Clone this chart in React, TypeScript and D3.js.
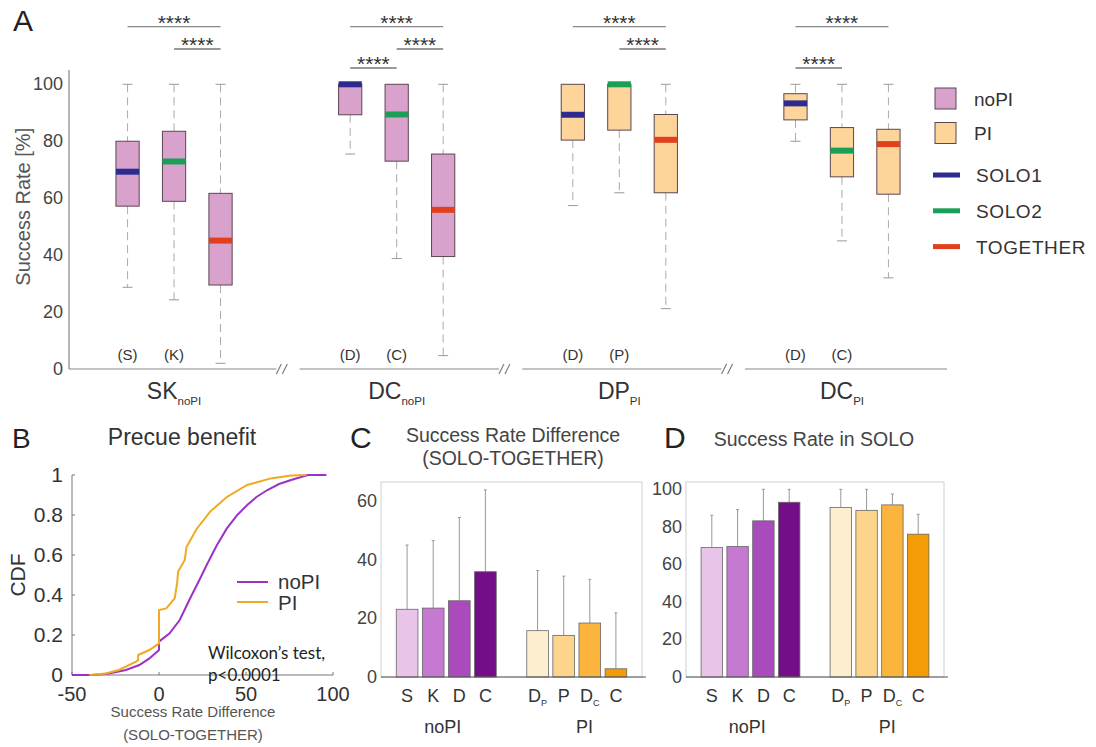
import React from "react";
import * as d3 from "d3";

const FONT = "'Liberation Sans', Arial, Helvetica, sans-serif";

// ---------- panel A: box plots ----------
const groupNames = ["SK", "DC", "DP", "DC"];
const groupSubs = ["noPI", "noPI", "PI", "PI"];
const groupCond = ["noPI", "noPI", "PI", "PI"];
const boxTags = [
  ["(S)", "(K)", ""],
  ["(D)", "(C)", ""],
  ["(D)", "(P)", ""],
  ["(D)", "(C)", ""],
];
const seriesNames = ["SOLO1", "SOLO2", "TOGETHER"];
const seriesColors = ["#2e2b8e", "#1b9e55", "#e2401c"];
const condNames = ["noPI", "PI"];
const condColors: Record<string, string> = { noPI: "#d8a2cd", PI: "#fdd59b" };
// [whisker low, q1, median, q3, whisker high]
const boxStats = [
  [[28.7, 57.2, 69.3, 80, 100], [24.3, 58.9, 72.9, 83.5, 100], [2, 29.5, 45.1, 61.7, 100]],
  [[75.5, 89.3, 100, 100, 100], [38.8, 73, 89.4, 100, 100], [4.7, 39.5, 55.9, 75.5, 100]],
  [[57.4, 80.4, 89.3, 100, 100], [61.9, 83.9, 100, 100, 100], [21.2, 61.9, 80.5, 89.4, 100]],
  [[80, 87.5, 93.3, 96.7, 100], [45, 67.5, 76.7, 84.8, 100], [32, 61.4, 79, 84.2, 100]],
];
// [group, from box, to box, row]
const sigBrackets = [
  [0, 0, 2, 0], [0, 1, 2, 1],
  [1, 0, 2, 0], [1, 1, 2, 1], [1, 0, 1, 2],
  [2, 0, 2, 0], [2, 1, 2, 1],
  [3, 0, 2, 0], [3, 0, 1, 2],
];
const yTicksA = [0, 20, 40, 60, 80, 100];

// ---------- panel B: CDF ----------
const cdfNoPIx = [-50, -38.5, -28.8, -19, -11.3, -5.5, 0, 0, 6.1, 11.9, 17.7, 23.5, 27.4, 33, 39, 45, 50.7, 56, 62.3, 69, 75.9, 85.6, 96.2];
const cdfNoPIy = [0, 0, 0.008, 0.025, 0.05, 0.083, 0.125, 0.167, 0.208, 0.275, 0.38, 0.48, 0.55, 0.645, 0.733, 0.8, 0.85, 0.89, 0.925, 0.955, 0.975, 1, 1];
const cdfPIx = [-40, -30.7, -23, -13.2, -12, -12, -5.5, 0, 0, 4.2, 9, 10.4, 11, 14.8, 15.8, 21.6, 29.4, 39, 50.7, 64.2, 75.9, 84.6];
const cdfPIy = [0, 0.008, 0.025, 0.067, 0.075, 0.1, 0.125, 0.158, 0.325, 0.333, 0.383, 0.458, 0.517, 0.575, 0.64, 0.73, 0.817, 0.89, 0.95, 0.983, 0.997, 1];
const xTicksB = [-50, 0, 50, 100];
const yTicksB = [0, 0.2, 0.4, 0.6, 0.8, 1];
const cdfColors = { noPI: "#9a32c6", PI: "#efa922" };

// ---------- panels C, D: bars ----------
const barCats = ["S", "K", "D", "C", "D", "P", "D", "C"];
const barSubs = ["", "", "", "", "P", "", "C", ""];
const barPos = [0, 1, 2, 3, 5, 6, 7, 8];
const barColors = ["#e8c4e8", "#c679d1", "#a94bbd", "#730d88", "#fdeed0", "#fdd48b", "#fbb53c", "#f39c05"];
const barGroups = ["noPI", "PI"];
const barGroupPos = [1.37, 6.8];
const diffMeans = [23.1, 23.5, 26, 35.9, 15.8, 14.2, 18.4, 2.8];
const diffUpper = [45, 46.5, 54.4, 63.8, 36.3, 34.4, 33.3, 21.9];
const soloMeans = [69, 69.6, 83.2, 93.1, 90.3, 88.8, 91.7, 76.1];
const soloUpper = [86.2, 89.2, 100, 100, 100, 100, 97.5, 86.7];
const yTicksC = [0, 20, 40, 60];
const yTicksD = [0, 20, 40, 60, 80, 100];

function PanelA() {
  const GS = 4.79;
  const x = d3.scaleLinear().domain([-1.26, 3 * GS + 3.26]).range([69, 947]);
  const y = d3.scaleLinear().domain([0, 100]).range([369, 84.3]);
  const bw = 0.5 * (x(1) - x(0));
  const rowY = [26.7, 49, 68];
  const pos = (g: number, i: number) => x(g * GS + i);
  return (
    <g>
      <text x={13} y={31} fontSize={30} fill="#222">A</text>
      {/* y axis */}
      <line x1={69} x2={69} y1={y(105)} y2={y(0)} stroke="#888" strokeWidth={1.2} />
      {yTicksA.map((t) => (
        <text key={t} x={63} y={y(t) + 6} fontSize={18} fill="#444" textAnchor="end">{t}</text>
      ))}
      <text transform={`translate(30,${y(57)}) rotate(-90)`} fontSize={20} fill="#555" textAnchor="middle">Success Rate [%]</text>
      {/* x axis segments with breaks */}
      {groupNames.map((_, g) => {
        const s = x(g * GS - 1.26) + (g === 0 ? 0 : 8);
        const e = x(g * GS + 2 + (g === 3 ? 1.26 : 1.2));
        return <line key={g} x1={s} x2={e} y1={y(0)} y2={y(0)} stroke="#888" strokeWidth={1.2} />;
      })}
      {[0, 1, 2].map((g) => {
        const cx = x(g * GS + 2 + 1.2) + 5;
        return (
          <g key={g} stroke="#777" strokeWidth={1.1}>
            <line x1={cx - 5} y1={y(0) + 5} x2={cx} y2={y(0) - 5} />
            <line x1={cx + 1} y1={y(0) + 5} x2={cx + 6} y2={y(0) - 5} />
          </g>
        );
      })}
      {/* boxes */}
      {boxStats.map((grp, g) =>
        grp.map((s, i) => {
          const cx = pos(g, i);
          const [lo, q1, med, q3, hi] = s;
          return (
            <g key={`${g}-${i}`}>
              {hi > q3 && (
                <>
                  <line x1={cx} x2={cx} y1={y(hi)} y2={y(q3)} stroke="#aaa" strokeDasharray="8,5" />
                  <line x1={cx - 5} x2={cx + 5} y1={y(hi)} y2={y(hi)} stroke="#999" />
                </>
              )}
              {lo < q1 && (
                <>
                  <line x1={cx} x2={cx} y1={y(q1)} y2={y(lo)} stroke="#aaa" strokeDasharray="8,5" />
                  <line x1={cx - 5} x2={cx + 5} y1={y(lo)} y2={y(lo)} stroke="#999" />
                </>
              )}
              <rect x={cx - bw / 2} y={y(q3)} width={bw} height={y(q1) - y(q3)} fill={condColors[groupCond[g]]} stroke="#5a4650" strokeWidth={1} />
              <line x1={cx - bw / 2} x2={cx + bw / 2} y1={y(med)} y2={y(med)} stroke={seriesColors[i]} strokeWidth={6} />
              {boxTags[g][i] && (
                <text x={cx} y={360} fontSize={15} fill="#333" textAnchor="middle">{boxTags[g][i]}</text>
              )}
            </g>
          );
        })
      )}
      {/* group labels */}
      {groupNames.map((n, g) => (
        <text key={g} x={pos(g, 1)} y={398.5} fontSize={23} fill="#333" textAnchor="middle">
          {n}
          <tspan fontSize={11.5} dy={6}>{groupSubs[g]}</tspan>
        </text>
      ))}
      {/* significance */}
      {sigBrackets.map(([g, a, b, r], k) => {
        const x1 = pos(g, a), x2 = pos(g, b);
        return (
          <g key={k}>
            <line x1={x1} x2={x2} y1={rowY[r]} y2={rowY[r]} stroke={r === 0 ? "#888" : "#333"} strokeWidth={1.2} />
            <text x={(x1 + x2) / 2} y={rowY[r] + 3} fontSize={21} fill="#333" textAnchor="middle">****</text>
          </g>
        );
      })}
      {/* legend */}
      {condNames.map((c, k) => (
        <g key={c}>
          <rect x={935} y={88 + k * 34.5} width={21} height={21} fill={condColors[c]} stroke="#5a4650" />
          <text x={974} y={105.5 + k * 34.5} fontSize={19} fill="#333">{c}</text>
        </g>
      ))}
      {seriesNames.map((s, k) => (
        <g key={s}>
          <line x1={933} x2={960} y1={175 + k * 35.8} y2={175 + k * 35.8} stroke={seriesColors[k]} strokeWidth={5} />
          <text x={976} y={182 + k * 35.8} fontSize={19} fill="#333" letterSpacing={0.6}>{s}</text>
        </g>
      ))}
    </g>
  );
}

function PanelB() {
  const x = d3.scaleLinear().domain([-50, 100]).range([72, 333]);
  const y = d3.scaleLinear().domain([0, 1]).range([675, 475]);
  const line = d3.line<[number, number]>().x((d) => x(d[0])).y((d) => y(d[1]));
  const noPI = cdfNoPIx.map((v, i) => [v, cdfNoPIy[i]] as [number, number]);
  const pi = cdfPIx.map((v, i) => [v, cdfPIy[i]] as [number, number]);
  return (
    <g>
      <text x={12} y={448} fontSize={28} fill="#222">B</text>
      <text x={182} y={445} fontSize={23} fill="#333" textAnchor="middle">Precue benefit</text>
      <line x1={x(-50)} x2={x(-50)} y1={y(1)} y2={y(0)} stroke="#777" />
      <line x1={x(-50)} x2={x(100)} y1={y(0)} y2={y(0)} stroke="#777" />
      {xTicksB.map((t) => (
        <g key={t}>
          <line x1={x(t)} x2={x(t)} y1={y(0)} y2={y(0) - 3} stroke="#777" />
          <text x={x(t)} y={701} fontSize={20} fill="#333" textAnchor="middle">{t}</text>
        </g>
      ))}
      {yTicksB.map((t) => (
        <g key={t}>
          <line x1={x(-50)} x2={x(-50) + 3} y1={y(t)} y2={y(t)} stroke="#777" />
          <text x={63} y={y(t) + 7} fontSize={21} fill="#333" textAnchor="end">{t}</text>
        </g>
      ))}
      <text transform={`translate(25,${y(0.5)}) rotate(-90)`} fontSize={21} fill="#333" textAnchor="middle">CDF</text>
      <text x={193} y={717} fontSize={15} fill="#555" textAnchor="middle">Success Rate Difference</text>
      <text x={193} y={740} fontSize={15} fill="#555" textAnchor="middle">(SOLO-TOGETHER)</text>
      <path d={line(noPI) || ""} fill="none" stroke={cdfColors.noPI} strokeWidth={2} />
      <path d={line(pi) || ""} fill="none" stroke={cdfColors.PI} strokeWidth={2} />
      <line x1={237} x2={268} y1={582} y2={582} stroke={cdfColors.noPI} strokeWidth={2} />
      <text x={278} y={589} fontSize={20.5} fill="#333">noPI</text>
      <line x1={237} x2={268} y1={602} y2={602} stroke={cdfColors.PI} strokeWidth={2} />
      <text x={278} y={609.5} fontSize={20.5} fill="#333">PI</text>
      <text x={208} y={659} fontSize={17} fill="#222" fontFamily="Lato, 'Open Sans', sans-serif">Wilcoxon’s test,</text>
      <text x={208} y={680.5} fontSize={17} fill="#222" fontFamily="Lato, 'Open Sans', sans-serif">p&lt;0.0001</text>
    </g>
  );
}

type BarProps = {
  letter: string; letterX: number; title: string[]; titleX: number; titleY: number[];
  left: number; right: number; top: number; bottom: number; yMax: number;
  ticks: number[]; means: number[]; uppers: number[];
};

function BarPanel(p: BarProps) {
  const x = d3.scaleLinear().domain([-1, 9]).range([p.left, p.right]);
  const y = d3.scaleLinear().domain([0, p.yMax]).range([p.bottom, p.top]);
  const bw = 0.83 * (x(1) - x(0));
  return (
    <g>
      <text x={p.letterX} y={448} fontSize={30} fill="#222">{p.letter}</text>
      {p.title.map((t, i) => (
        <text key={i} x={p.titleX} y={p.titleY[i]} fontSize={19.5} fill="#444" textAnchor="middle">{t}</text>
      ))}
      <rect x={p.left} y={p.top} width={p.right - p.left} height={p.bottom - p.top} fill="none" stroke="#d0d0d0" />
      {p.ticks.map((t) => (
        <text key={t} x={p.left - 4} y={y(t) + 6} fontSize={18} fill="#444" textAnchor="end">{t}</text>
      ))}
      {p.means.map((m, i) => {
        const cx = x(barPos[i]);
        return (
          <g key={i}>
            <line x1={cx} x2={cx} y1={y(p.uppers[i])} y2={y(m)} stroke="#999" strokeWidth={1} />
            <line x1={cx - 1.5} x2={cx + 1.5} y1={y(p.uppers[i])} y2={y(p.uppers[i])} stroke="#999" />
            <rect x={cx - bw / 2} y={y(m)} width={bw} height={y(0) - y(m)} fill={barColors[i]} stroke="#666" strokeWidth={0.8} />
            <text x={cx} y={702} fontSize={18} fill="#333" textAnchor="middle">
              {barCats[i]}
              {barSubs[i] && <tspan fontSize={9} dy={4}>{barSubs[i]}</tspan>}
            </text>
          </g>
        );
      })}
      <line x1={p.left} x2={p.right + 4} y1={p.bottom} y2={p.bottom} stroke="#555" strokeWidth={1.2} />
      {barGroups.map((g, k) => (
        <text key={g} x={x(barGroupPos[k])} y={733} fontSize={18} fill="#333" textAnchor="middle">{g}</text>
      ))}
    </g>
  );
}

export default function App() {
  return (
    <svg width={1096} height={747} style={{ position: "absolute", left: 0, top: 0, background: "#fff" }} fontFamily={FONT}>
      <PanelA />
      <PanelB />
      <BarPanel letter="C" letterX={350} title={["Success Rate Difference", "(SOLO-TOGETHER)"]} titleX={513} titleY={[442, 465]}
        left={381} right={642} top={482} bottom={677} yMax={66.5} ticks={yTicksC} means={diffMeans} uppers={diffUpper} />
      <BarPanel letter="D" letterX={664} title={["Success Rate in SOLO"]} titleX={814} titleY={[446]}
        left={686} right={944} top={482} bottom={677} yMax={103.9} ticks={yTicksD} means={soloMeans} uppers={soloUpper} />
    </svg>
  );
}
